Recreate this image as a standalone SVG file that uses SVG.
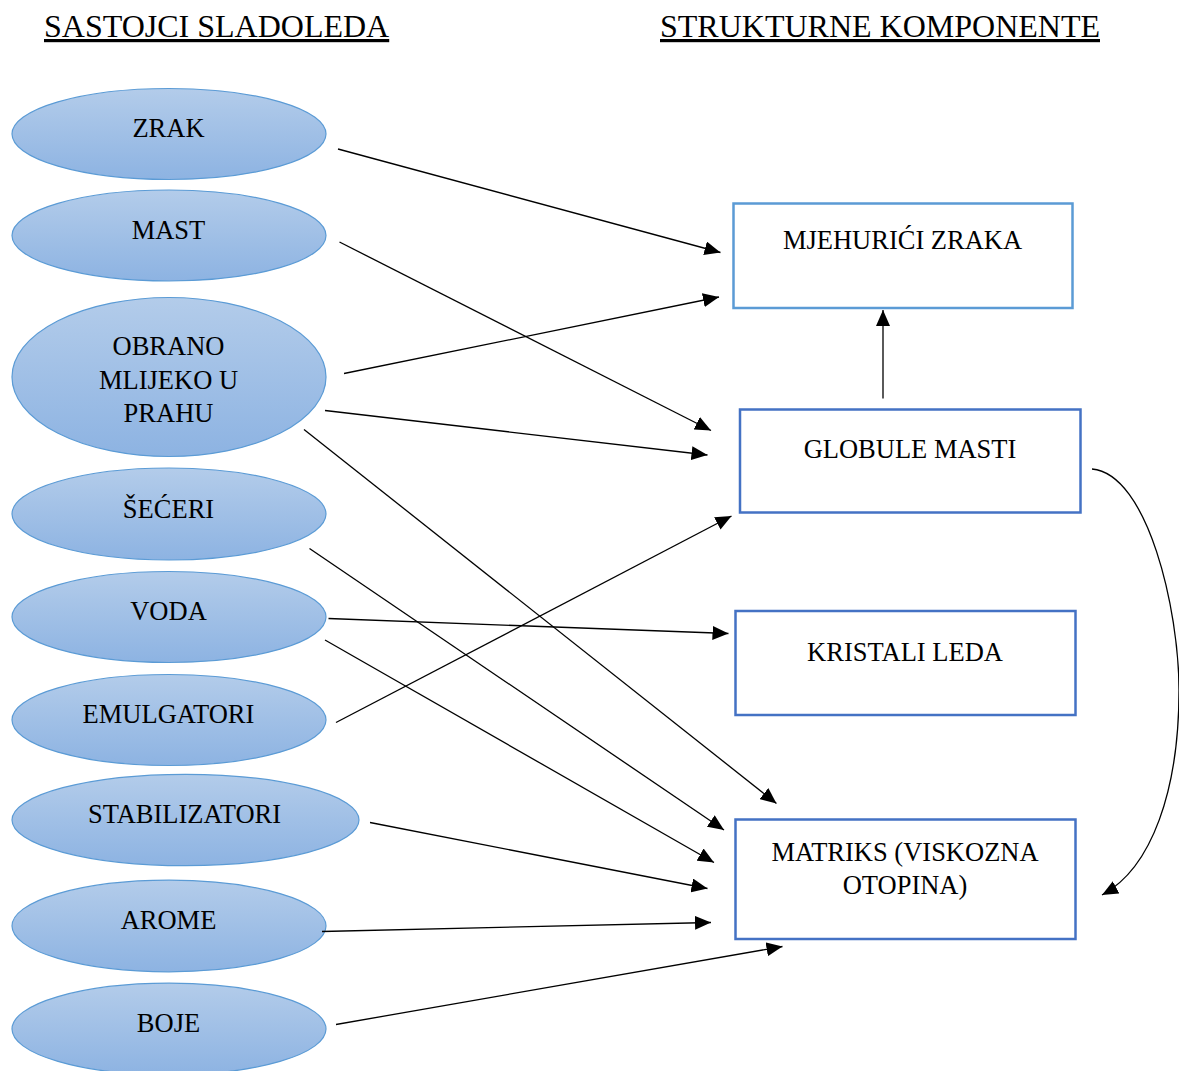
<svg xmlns="http://www.w3.org/2000/svg" width="1179" height="1071" viewBox="0 0 1179 1071">
<defs>
<linearGradient id="ellGrad" x1="0" y1="0" x2="0" y2="1">
<stop offset="0" stop-color="#B3CCEA"/>
<stop offset="1" stop-color="#8DB3E2"/>
</linearGradient>
<marker id="arr" viewBox="0 0 16 14" refX="16" refY="7" markerWidth="16" markerHeight="14" markerUnits="userSpaceOnUse" orient="auto">
<path d="M0,0 L16,7 L0,14 Z" fill="#000"/>
</marker>
</defs>
<style>
text{font-family:"Liberation Serif","Times New Roman",serif;fill:#000;}
.title{font-size:32px;text-decoration:underline;}
.lbl{font-size:26.5px;text-anchor:middle;}
.ell{fill:url(#ellGrad);stroke:#5B9BD5;stroke-width:1.2;}
.box{fill:#fff;stroke:#4472C4;stroke-width:2.5;}
.box2{fill:#fff;stroke:#5B9BD5;stroke-width:2.5;}
.con{fill:none;stroke:#000;stroke-width:1.3;marker-end:url(#arr);}
</style>
<rect width="1179" height="1071" fill="#fff"/>
<g id="titles">
<text class="title" x="44" y="37">SASTOJCI SLADOLEDA</text>
<text class="title" x="660" y="37">STRUKTURNE KOMPONENTE</text>
</g>
<g id="n-zrak"><ellipse class="ell" cx="169" cy="134" rx="157" ry="45.5"/><text class="lbl" x="168.5" y="137">ZRAK</text></g>
<g id="n-mast"><ellipse class="ell" cx="169" cy="235.5" rx="157" ry="45.5"/><text class="lbl" x="168.5" y="239">MAST</text></g>
<g id="n-obrano"><ellipse class="ell" cx="169" cy="377" rx="157" ry="79.5"/><text class="lbl" x="168.5" y="355">OBRANO</text><text class="lbl" x="168.5" y="388.5">MLIJEKO U</text><text class="lbl" x="168.5" y="422">PRAHU</text></g>
<g id="n-seceri"><ellipse class="ell" cx="169" cy="514" rx="157" ry="46"/><text class="lbl" x="168.5" y="518">ŠEĆERI</text></g>
<g id="n-voda"><ellipse class="ell" cx="169" cy="617" rx="157" ry="45.5"/><text class="lbl" x="168.5" y="620">VODA</text></g>
<g id="n-emulgatori"><ellipse class="ell" cx="169" cy="720" rx="157" ry="45.5"/><text class="lbl" x="168.5" y="723">EMULGATORI</text></g>
<g id="n-stabilizatori"><ellipse class="ell" cx="185.5" cy="820" rx="173.5" ry="45.7"/><text class="lbl" x="184.5" y="823">STABILIZATORI</text></g>
<g id="n-arome"><ellipse class="ell" cx="169" cy="926" rx="157" ry="45.8"/><text class="lbl" x="168.5" y="929">AROME</text></g>
<g id="n-boje"><ellipse class="ell" cx="169" cy="1029" rx="157" ry="45.8"/><text class="lbl" x="168.5" y="1032">BOJE</text></g>
<g id="n-mjehurici"><rect class="box2" x="733.5" y="203.5" width="339" height="104.5"/><text class="lbl" x="902.5" y="249">MJEHURIĆI ZRAKA</text></g>
<g id="n-globule"><rect class="box" x="740" y="409.5" width="340.5" height="103"/><text class="lbl" x="910" y="458">GLOBULE MASTI</text></g>
<g id="n-kristali"><rect class="box" x="735.5" y="611" width="340" height="104"/><text class="lbl" x="905" y="661">KRISTALI LEDA</text></g>
<g id="n-matriks"><rect class="box" x="735.5" y="819.5" width="340" height="119.5"/><text class="lbl" x="905" y="861">MATRIKS (VISKOZNA</text><text class="lbl" x="905" y="894">OTOPINA)</text></g>
<g id="connectors">
<line class="con" x1="338" y1="149" x2="720.5" y2="252.5"/>
<line class="con" x1="339.5" y1="242" x2="711" y2="430.5"/>
<line class="con" x1="344" y1="373.5" x2="719" y2="297"/>
<line class="con" x1="325" y1="410.5" x2="707.5" y2="455"/>
<line class="con" x1="304" y1="429.5" x2="776.5" y2="803.5"/>
<line class="con" x1="309.5" y1="548.5" x2="724" y2="830"/>
<line class="con" x1="328.5" y1="618.5" x2="728.5" y2="633.5"/>
<line class="con" x1="325" y1="640" x2="714" y2="862.5"/>
<line class="con" x1="336" y1="722.5" x2="731.5" y2="516"/>
<line class="con" x1="370" y1="822.5" x2="707.5" y2="888.5"/>
<line class="con" x1="322" y1="931.5" x2="711" y2="922.5"/>
<line class="con" x1="336" y1="1024.5" x2="782.5" y2="946.5"/>
<line class="con" x1="883" y1="398.5" x2="883" y2="310"/>
<path class="con" d="M1092,469 C1148,474 1179,610 1179,690 C1179,790 1152,868 1102,895"/>
</g>
</svg>
